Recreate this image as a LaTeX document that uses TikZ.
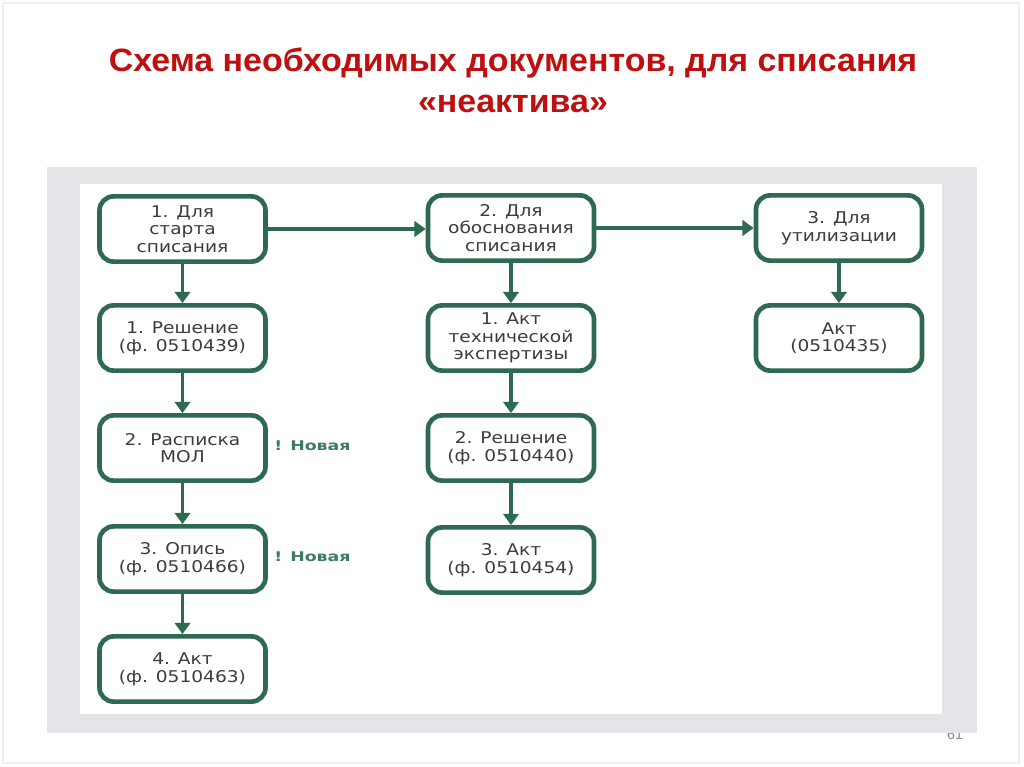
\documentclass[tikz,border=0pt]{standalone}
\usepackage{fontspec}
\setmainfont{DejaVu Sans}
\newfontfamily\boxfont{DejaVu Sans}[FakeStretch=1.15]
\newfontfamily\newlabfont{DejaVu Sans}[FakeStretch=1.3]
\newfontfamily\titlefont{Liberation Sans}[FakeStretch=1.05]
\newfontfamily\pagefont{Liberation Sans}
\usetikzlibrary{arrows.meta}
\definecolor{grn}{HTML}{2D6A50}
\definecolor{lab}{HTML}{3E7C60}
\definecolor{ttl}{HTML}{BE1010}
\definecolor{bgg}{HTML}{E5E5E9}
\definecolor{txt}{HTML}{3C3C3C}
\definecolor{pgc}{HTML}{8A8A8A}
\tikzset{
  box/.style={draw=grn, line width=3.3pt, rounded corners=10pt, fill=white,
    minimum width=4.15cm, minimum height=1.63cm, align=center, inner sep=0pt,
    font=\boxfont\fontsize{11.5}{12.5}\selectfont, text=txt},
  arr/.style={draw=grn, line width=2.8pt, -{Triangle[width=11pt,length=8pt]}},
  newlab/.style={font=\newlabfont\bfseries\fontsize{9.5}{11}\selectfont, text=lab, anchor=west, inner sep=0pt},
  ttlstyle/.style={font=\titlefont\bfseries\fontsize{23}{28}\selectfont, text=ttl, anchor=base, inner sep=0pt}
}
\begin{document}
\begin{tikzpicture}[x=0.025cm,y=-0.025cm]
\useasboundingbox[fill=white] (0,0) rectangle (1024,767);
\draw[gray!12, line width=0.8pt] (3,3) rectangle (1019,763);
% title
\node[ttlstyle] (t1) at (513,72) {Схема необходимых документов, для списания};
\node[ttlstyle] (t2) at (513,113) {«неактива»};
% page number (partly covered)
\node[font=\pagefont\fontsize{10}{12}\selectfont, text=pgc, anchor=base, inner sep=0pt] (pg) at (955,739) {61};
% panels
\fill[bgg] (47,167) rectangle (977,733);
\fill[white] (80,184) rectangle (942,714);
% boxes
\node[box] (s1) at (182.5,229) {1. Для\\старта\\списания};
\node[box] (s2) at (511,228) {2. Для\\обоснования\\списания};
\node[box] (s3) at (839,228) {3. Для\\утилизации};
\node[box] (a1) at (182.5,338) {1. Решение\\(ф. 0510439)};
\node[box] (a2) at (182.5,448) {2. Расписка\\МОЛ};
\node[box] (a3) at (182.5,559) {3. Опись\\(ф. 0510466)};
\node[box] (a4) at (182.5,669) {4. Акт\\(ф. 0510463)};
\node[box] (b1) at (511,338) {1. Акт\\технической\\экспертизы};
\node[box] (b2) at (511,448) {2. Решение\\(ф. 0510440)};
\node[box] (b3) at (511,560) {3. Акт\\(ф. 0510454)};
\node[box] (c1) at (839,338) {Акт\\(0510435)};
% labels
\node[newlab] (n1) at (274,446) {! Новая};
\node[newlab] (n2) at (274,557) {! Новая};
% arrows
\draw[arr] (s1.east) -- (s1.east -| s2.west);
\draw[arr] (s2.east) -- (s2.east -| s3.west);
\draw[arr] (s1) -- (a1);
\draw[arr] (a1) -- (a2);
\draw[arr] (a2) -- (a3);
\draw[arr] (a3) -- (a4);
\draw[arr] (s2) -- (b1);
\draw[arr] (b1) -- (b2);
\draw[arr] (b2) -- (b3);
\draw[arr] (s3) -- (c1);
\end{tikzpicture}
\end{document}
